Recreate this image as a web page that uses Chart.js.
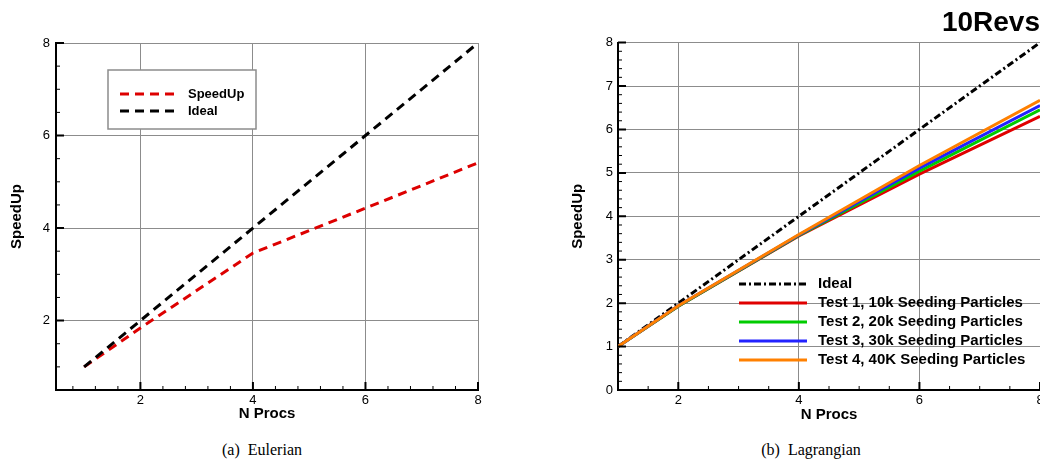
<!DOCTYPE html>
<html>
<head>
<meta charset="utf-8">
<script src="https://cdn.jsdelivr.net/npm/chart.js@4/dist/chart.umd.min.js"></script>
<style>
  html, body { margin: 0; padding: 0; background: #fff; }
  #wrap { position: relative; width: 1040px; height: 476px; overflow: hidden; }
  canvas { position: absolute; top: 0; }
  #eulerChart { left: 0; }
  #lagChart { left: 540px; }
  .cap { position: absolute; top: 441px; font-family: "Liberation Serif", "Times New Roman", serif; font-size: 16px; transform: translateX(-50%); white-space: nowrap; }
</style>
</head>
<body>
<div id="wrap">
  <canvas id="eulerChart" width="520" height="430"></canvas>
  <canvas id="lagChart" width="500" height="430"></canvas>
  <div class="cap" style="left:262px">(a)&nbsp;&nbsp;Eulerian</div>
  <div class="cap" style="left:811px">(b)&nbsp;&nbsp;Lagrangian</div>
</div>
<script>
// (a) Eulerian
const eulerProcs = [1, 2, 4, 6, 8];
const eulerSpeedUp = [1.0, 1.84, 3.46, 4.43, 5.41];
const eulerIdeal = [1, 2, 4, 6, 8];
const eulerXTicks = [2, 4, 6, 8];
const eulerYTicks = [2, 4, 6, 8];

// (b) Lagrangian
const lagProcs = [1, 2, 4, 6, 8];
const lagIdeal = [1, 2, 4, 6, 8];
const lagTest1 = [1.0, 1.93, 3.55, 4.97, 6.30];
const lagTest2 = [1.0, 1.93, 3.56, 5.04, 6.45];
const lagTest3 = [1.0, 1.94, 3.57, 5.11, 6.55];
const lagTest4 = [1.0, 1.94, 3.58, 5.17, 6.67];
const lagXTicks = [2, 4, 6, 8];
const lagYTicks = [0, 1, 2, 3, 4, 5, 6, 7, 8];

const FONT = "'Liberation Sans', Arial, Helvetica, sans-serif";
const GRID = '#8c8c8c';
Chart.defaults.font.family = FONT;
Chart.defaults.color = '#000';

function pts(xs, ys) {
    return xs.map((x, i) => ({ x: x, y: ys[i] }));
}

function stepValues(min, max, step) {
    const out = [];
    for (let k = Math.ceil(min / step - 1e-9); k * step <= max + 1e-9; k++) {
        out.push(+(k * step).toFixed(6));
    }
    return out;
}

// inward tick marks on the left and bottom axes
const frameTicks = {
    id: 'frameTicks',
    afterDatasetsDraw(chart, args, opts) {
        const { ctx, chartArea: area, scales } = chart;
        const draw = (scale, values, len, width) => {
            ctx.lineWidth = width;
            ctx.beginPath();
            values.forEach(v => {
                const p = scale.getPixelForValue(v);
                if (scale.isHorizontal()) {
                    ctx.moveTo(p, area.bottom);
                    ctx.lineTo(p, area.bottom - len);
                } else {
                    ctx.moveTo(area.left, p);
                    ctx.lineTo(area.left + len, p);
                }
            });
            ctx.stroke();
        };
        ctx.save();
        ctx.strokeStyle = '#000';
        ['x', 'y'].forEach(id => {
            const s = scales[id];
            const major = s.ticks.map(t => t.value);
            const minor = stepValues(s.min, s.max, opts[id])
                .filter(v => !major.some(m => Math.abs(m - v) < 1e-6));
            draw(s, minor, 4, 1);
            draw(s, major, 8, 2);
        });
        ctx.restore();
    }
};

// legend drawn at a fixed spot inside the plot
const boxLegend = {
    id: 'boxLegend',
    afterDraw(chart, args, o) {
        const ctx = chart.ctx;
        ctx.save();
        if (o.box) {
            ctx.fillStyle = '#fff';
            ctx.fillRect(...o.box);
            ctx.strokeStyle = '#8c8c8c';
            ctx.lineWidth = 1.5;
            ctx.strokeRect(...o.box);
        }
        ctx.font = o.font;
        ctx.textBaseline = 'middle';
        chart.data.datasets.forEach((ds, i) => {
            const y = o.top + i * o.rowGap;
            ctx.strokeStyle = ds.borderColor;
            ctx.lineWidth = ds.borderWidth;
            ctx.setLineDash(ds.borderDash || []);
            ctx.beginPath();
            ctx.moveTo(o.lineX0, y);
            ctx.lineTo(o.lineX1, y);
            ctx.stroke();
            ctx.setLineDash([]);
            ctx.fillStyle = '#000';
            ctx.fillText(ds.label, o.textX, y);
        });
        ctx.restore();
    }
};

function fixedX(height) {
    return s => { s.height = height; s.paddingLeft = 0; s.paddingRight = 0; };
}
function fixedY(width) {
    return s => { s.width = width; s.paddingTop = 0; s.paddingBottom = 0; };
}

function axes(xr, yr, xTicks, yTicks, yWidth, yTitlePad, xTitlePad, yLabelPad) {
    return {
        x: {
            type: 'linear', min: xr[0], max: xr[1],
            afterBuildTicks: s => { s.ticks = xTicks.map(v => ({ value: v })); },
            afterFit: fixedX(40),
            grid: { color: GRID, lineWidth: 1, drawTicks: false },
            border: { display: true, color: '#000', width: 2 },
            ticks: { padding: 3, font: { size: 13 }, maxRotation: 0 },
            title: { display: true, text: 'N Procs', font: { size: 15, weight: 'bold' }, padding: { top: 0, bottom: xTitlePad } }
        },
        y: {
            type: 'linear', min: yr[0], max: yr[1],
            afterBuildTicks: s => { s.ticks = yTicks.map(v => ({ value: v })); },
            afterFit: fixedY(yWidth),
            grid: { color: GRID, lineWidth: 1, drawTicks: false },
            border: { display: true, color: '#000', width: 2 },
            ticks: { padding: yLabelPad, font: { size: 13 } },
            title: { display: true, text: 'SpeedUp', font: { size: 15, weight: 'bold' }, padding: { top: yTitlePad, bottom: 0 } }
        }
    };
}

new Chart(document.getElementById('eulerChart'), {
    type: 'line',
    data: {
        datasets: [
            { label: 'SpeedUp', data: pts(eulerProcs, eulerSpeedUp), borderColor: '#dd0000', borderWidth: 3, borderDash: [9, 6], order: 1 },
            { label: 'Ideal', data: pts(eulerProcs, eulerIdeal), borderColor: '#000', borderWidth: 3, borderDash: [9, 6], order: 0 }
        ]
    },
    options: {
        responsive: false,
        animation: false,
        elements: { point: { radius: 0 }, line: { tension: 0, borderCapStyle: 'butt' } },
        layout: { padding: { top: 43, right: 42, bottom: 0, left: 0 } },
        scales: axes([0.5, 8], [0.5, 8], eulerXTicks, eulerYTicks, 56, 8, 7, 6),
        plugins: {
            legend: { display: false },
            tooltip: { enabled: false },
            frameTicks: { x: 0.4, y: 0.5 },
            boxLegend: {
                box: [108, 70, 148, 59],
                top: 94, rowGap: 17,
                lineX0: 120, lineX1: 177, textX: 188,
                font: "bold 13px " + FONT
            }
        }
    },
    plugins: [frameTicks, boxLegend]
});

new Chart(document.getElementById('lagChart'), {
    type: 'line',
    data: {
        datasets: [
            { label: 'Ideal', data: pts(lagProcs, lagIdeal), borderColor: '#000', borderWidth: 3, borderDash: [7, 3, 2, 3], order: 4 },
            { label: 'Test 1, 10k Seeding Particles', data: pts(lagProcs, lagTest1), borderColor: '#e00000', borderWidth: 3, order: 3 },
            { label: 'Test 2, 20k Seeding Particles', data: pts(lagProcs, lagTest2), borderColor: '#00cc00', borderWidth: 3, order: 2 },
            { label: 'Test 3, 30k Seeding Particles', data: pts(lagProcs, lagTest3), borderColor: '#2222ff', borderWidth: 3, order: 1 },
            { label: 'Test 4, 40K Seeding Particles', data: pts(lagProcs, lagTest4), borderColor: '#ff8000', borderWidth: 3, order: 0 }
        ]
    },
    options: {
        responsive: false,
        animation: false,
        elements: { point: { radius: 0 }, line: { tension: 0, borderCapStyle: 'butt' } },
        layout: { padding: { top: 0, right: 0, bottom: 0, left: 0 } },
        scales: axes([1, 8], [0, 8], lagXTicks, lagYTicks, 78, 29, 6, 5),
        plugins: {
            legend: { display: false },
            tooltip: { enabled: false },
            title: {
                display: true, text: '10Revs', align: 'end', color: '#000',
                font: { size: 28, weight: 'bold' },
                padding: { top: 6, bottom: 3 }
            },
            frameTicks: { x: 0.5, y: 0.2 },
            boxLegend: {
                top: 284, rowGap: 19,
                lineX0: 199, lineX1: 267, textX: 278,
                font: "bold 15px " + FONT
            }
        }
    },
    plugins: [frameTicks, boxLegend]
});
</script>
</body>
</html>
